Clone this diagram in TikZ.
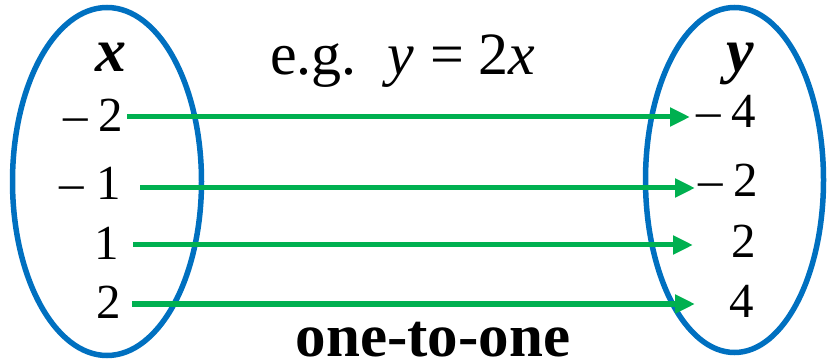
\documentclass[tikz,border=0pt]{standalone}
\usepackage{fontspec}
\setmainfont{Liberation Serif}
\usetikzlibrary{shapes.geometric,arrows.meta}
\definecolor{setblue}{HTML}{0070C0}
\definecolor{mapgreen}{HTML}{00B050}
\tikzset{
  setoval/.style={ellipse, draw=setblue, line width=5.5pt, inner sep=0pt},
  numlab/.style={inner sep=0pt, font=\fontsize{49}{58}\selectfont},
  varlab/.style={inner sep=0pt, font=\fontsize{62}{70}\selectfont\bfseries\itshape},
  maparrow/.style={draw=mapgreen, line width=5pt, -{Triangle[length=20pt,width=18pt]}},
}
\begin{document}
\begin{tikzpicture}[x=1pt,y=-1pt]
\useasboundingbox (0,0) rectangle (827,363);
% sets
\node[setoval, minimum width=189pt, minimum height=348pt] (L) at (107,181.5) {};
\node[setoval, minimum width=178pt, minimum height=345pt] (R) at (734.5,180) {};
% headings
\node[varlab, anchor=base] (hx) at (111,72) {x};
\node[varlab, anchor=base] (hy) at (740,72) {y};
% domain
\node[numlab, anchor=base east] (a1) at (123,132) {–\kern10pt2};
\node[numlab, anchor=base east] (a2) at (121,200) {–\kern12pt1};
\node[numlab, anchor=base east] (a3) at (119,260) {1};
\node[numlab, anchor=base east] (a4) at (121,318) {2};
% range
\node[numlab, anchor=base east] (b1) at (756,128) {–\kern10pt4};
\node[numlab, anchor=base east] (b2) at (758,197) {–\kern10pt2};
\node[numlab, anchor=base east] (b3) at (756,258) {2};
\node[numlab, anchor=base east] (b4) at (754,317) {4};
% arrow endpoints
\coordinate (s1) at (127,117); \coordinate (e1) at (690,117);
\coordinate (s2) at (140,188); \coordinate (e2) at (695,188);
\coordinate (s3) at (133,245); \coordinate (e3) at (693,245);
\coordinate (s4) at (132,304); \coordinate (e4) at (695,304);
\draw[maparrow] (s1) -- (e1);
\draw[maparrow] (s2) -- (e2);
\draw[maparrow] (s3) -- (e3);
\draw[maparrow] (s4) -- (e4);
% rule
\node[inner sep=0pt, anchor=base west, font=\fontsize{60}{70}\selectfont] (eg) at (270,75)
  {e.g.\kern31pt\textit{y}\kern16pt=\kern14pt2\kern0pt\textit{x}};
\node[inner sep=0pt, text depth=0pt, anchor=base, font=\fontsize{61}{70}\selectfont\bfseries] (kind) at (433,356) {one-to-one};
\end{tikzpicture}
\end{document}
